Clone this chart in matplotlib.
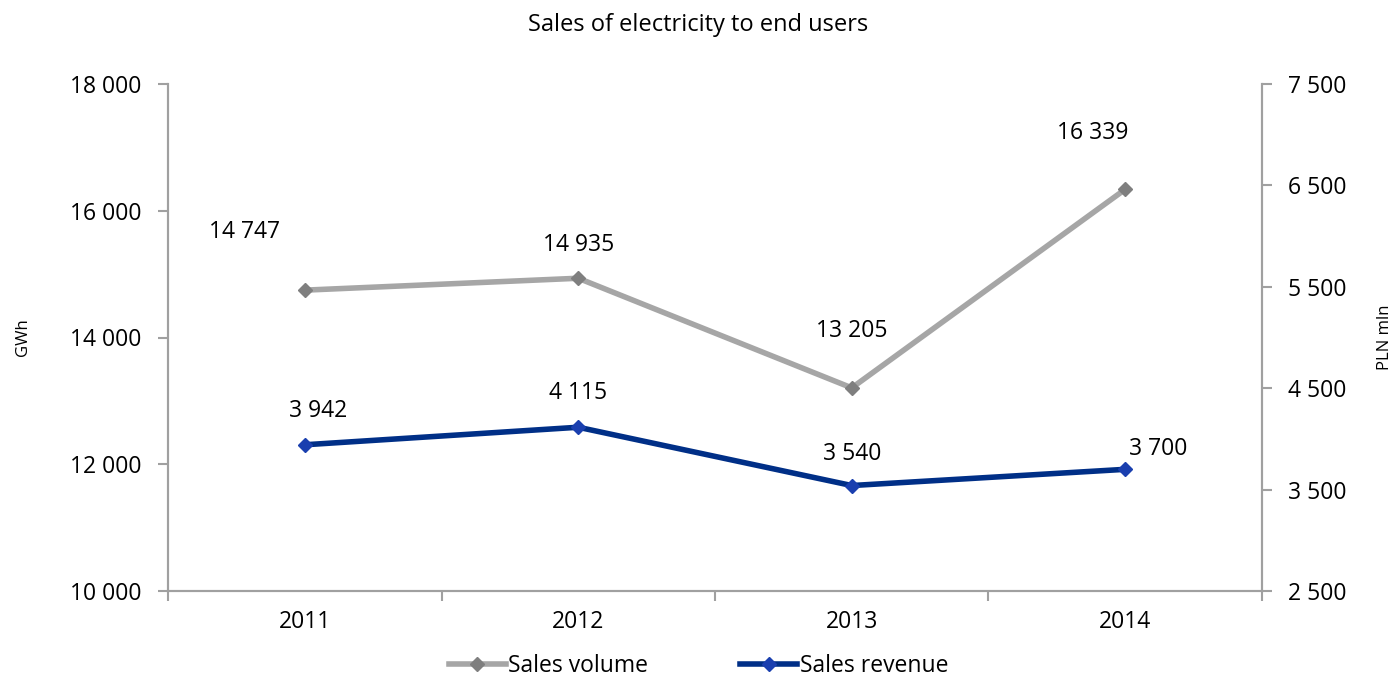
import matplotlib
matplotlib.use("Agg")
import matplotlib.pyplot as plt
from matplotlib.ticker import FuncFormatter, FixedLocator, NullFormatter
from matplotlib.lines import Line2D

years = ["2011", "2012", "2013", "2014"]
volume = [14747, 14935, 13205, 16339]
revenue = [3942, 4115, 3540, 3700]
volume_labels = ["14 747", "14 935", "13 205", "16 339"]
revenue_labels = ["3 942", "4 115", "3 540", "3 700"]

# label offsets in pixels (styling)
vol_off = [(-60, 58), (0, 33), (0, 57), (-33, 56)]
rev_off = [(13, 34), (0, 34), (0, 32), (33, 20)]

plt.rcParams['font.family'] = ['Open Sans', 'DejaVu Sans']
FS = 16.5

fig = plt.figure(figsize=(13.97, 6.76), dpi=100)
ax = fig.add_axes([168/1397, 1-591/676, (1262-168)/1397, (591-84)/676])
ax2 = ax.twinx()

gray_line = "#A6A6A6"
gray_mark = "#7F7F7F"
blue_line = "#002F87"
blue_mark = "#1A3FAF"
spine_c = "#A0A0A0"

x = list(range(len(years)))
ax.plot(x, volume, color=gray_line, lw=4, marker="D", ms=7,
        mfc=gray_mark, mec=gray_mark, zorder=3)
ax2.plot(x, revenue, color=blue_line, lw=4, marker="D", ms=7,
         mfc=blue_mark, mec=blue_mark, zorder=3)

ax.set_xlim(-0.5, 3.5)
ax.set_ylim(10000, 18000)
ax2.set_ylim(2500, 7500)
ax.set_yticks([10000, 12000, 14000, 16000, 18000])
ax2.set_yticks([2500, 3500, 4500, 5500, 6500, 7500])
fmt = FuncFormatter(lambda v, p: f"{int(v):,}".replace(",", " "))
ax.yaxis.set_major_formatter(fmt)
ax2.yaxis.set_major_formatter(fmt)

ax.set_xticks(x)
ax.set_xticklabels(years)
ax.xaxis.set_minor_locator(FixedLocator([-0.5, 0.5, 1.5, 2.5, 3.5]))
ax.xaxis.set_minor_formatter(NullFormatter())
ax.tick_params(axis="x", which="major", length=0, pad=14, labelsize=FS)
ax.tick_params(axis="x", which="minor", length=7, color=spine_c, width=1.5)
ax.tick_params(axis="y", length=7, color=spine_c, width=1.5, labelsize=FS, pad=12)
ax2.tick_params(axis="y", length=7, color=spine_c, width=1.5, labelsize=FS, pad=12)

for a in (ax, ax2):
    a.spines["top"].set_visible(False)
    for s in ("left", "right", "bottom"):
        a.spines[s].set_color(spine_c)
        a.spines[s].set_linewidth(1.5)

ax.set_ylabel("GWh", fontsize=12, labelpad=28)
ax2.set_ylabel("PLN mln", fontsize=12, labelpad=22)

for i, (v, t) in enumerate(zip(volume, volume_labels)):
    ax.annotate(t, (i, v), xytext=vol_off[i], textcoords="offset pixels",
                ha="center", va="center", fontsize=FS)
for i, (v, t) in enumerate(zip(revenue, revenue_labels)):
    ax2.annotate(t, (i, v), xytext=rev_off[i], textcoords="offset pixels",
                 ha="center", va="center", fontsize=FS)

fig.text(0.5, 1-25/676, "Sales of electricity to end users", ha="center",
         va="center", fontsize=17)

handles = [
    Line2D([], [], color=gray_line, lw=4, marker="D", ms=7, mfc=gray_mark, mec=gray_mark),
    Line2D([], [], color=blue_line, lw=4, marker="D", ms=7, mfc=blue_mark, mec=blue_mark),
]
fig.legend(handles, ["Sales volume", "Sales revenue"], loc="center",
           bbox_to_anchor=(0.5, 1-666/676), ncol=2, frameon=False,
           fontsize=FS, handlelength=2.5, handletextpad=0.1, columnspacing=4)

fig.savefig("out.png", dpi=100)
